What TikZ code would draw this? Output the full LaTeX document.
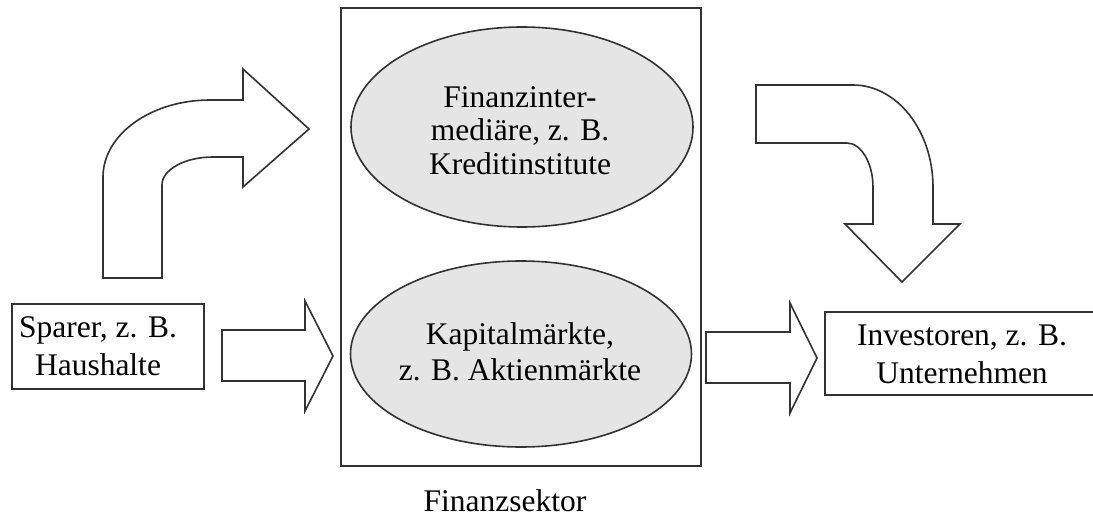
\documentclass[tikz,border=0pt]{standalone}
\usepackage{fontspec}
\setmainfont{Liberation Serif}
\usetikzlibrary{shapes.geometric}
\begin{document}
\begin{tikzpicture}[x=1pt,y=-1pt,
  ln/.style={draw=black!80, line width=1.6pt, line join=miter},
  txt/.style={font=\fontsize{31.5}{38}\selectfont, align=center, inner sep=0pt, text=black},
  ell/.style={ellipse, ln, fill=black!10, inner sep=0pt},
  blockarrow/.style={ln, fill=white}]
\useasboundingbox (0,0) rectangle (1093,524);
% Finanzsektor frame
\node[ln, rectangle, minimum width=360pt, minimum height=458pt, inner sep=0pt] (fs) at (521,237) {};
% ellipses
\node[ell, minimum width=342pt, minimum height=200pt] (fi) at (522,127) {};
\node[txt, font=\fontsize{31.5}{33.5}\selectfont] (fit) at (520,130.5) {Finanzinter-\\mediäre, z. B.\\Kreditinstitute};
\node[ell, minimum width=341pt, minimum height=186pt] (km) at (521,354) {};
\node[txt, font=\fontsize{31.5}{36}\selectfont] (kmt) at (520,352) {Kapitalmärkte,\\z. B. Aktienmärkte};
% side boxes
\node[ln, rectangle, minimum width=192pt, minimum height=85pt, inner sep=0pt] (sp) at (108,346.5) {};
\node[txt] (spt) at (98,346) {Sparer, z. B.\\Haushalte};
\node[ln, rectangle, minimum width=272pt, minimum height=83pt, inner sep=0pt] (inv) at (961,353.5) {};
\node[txt] (invt) at (962,354) {Investoren, z. B.\\Unternehmen};
% caption
\node[txt, anchor=base] (sek) at (505,511) {Finanzsektor};
% straight block arrows
\draw[blockarrow] (222,330) -- (305,330) -- (305,301) -- (333,356) -- (305,411) -- (305,381) -- (222,381) -- cycle;
\draw[blockarrow] (706,332) -- (790,332) -- (790,303) -- (817,358) -- (790,413) -- (790,383) -- (706,383) -- cycle;
% curved block arrow, left (up and right)
\draw[blockarrow] (103,278) -- (103,177) .. controls (103,134.5) and (151,100) .. (210,100) -- (243,100) -- (243,69) -- (309,129) -- (243,187) -- (243,157) -- (213,157) .. controls (185,157) and (162,169.5) .. (162,185) -- (162,278) -- cycle;
% curved block arrow, right (right and down)
\draw[blockarrow] (756,85) -- (853,85) .. controls (897,85) and (933,131) .. (933,187) -- (933,224) -- (960,224) -- (902,282) -- (845,224) -- (873,224) -- (873,187) .. controls (873,163) and (861,143) .. (847,143) -- (756,143) -- cycle;
\end{tikzpicture}
\end{document}
